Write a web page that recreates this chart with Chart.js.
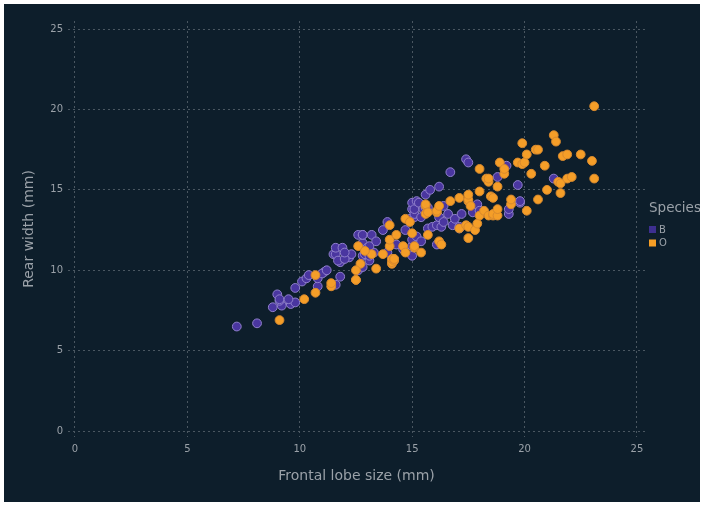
<!DOCTYPE html>
<html>
<head>
<meta charset="utf-8">
<script src="https://cdn.jsdelivr.net/npm/chart.js@4"></script>
<style>
  html, body { margin: 0; padding: 0; background: #ffffff; }
  #wrap { position: absolute; left: 4px; top: 4px; width: 696px; height: 498px; background: #0d1e2b; }
  canvas { display: block; }
</style>
</head>
<body>
<div id="wrap"><canvas id="c" width="696" height="498"></canvas></div>
<script>
// Crab morphology: frontal lobe size (FL) against rear width (RW), by species.
const speciesNames = ['B', 'O'];

// Species B (blue form) — FL values
const fl_B = [
  8.1, 8.8, 9.2, 9.6, 9.8, 10.8, 11.1, 11.6, 11.8, 11.8,
  12.2, 12.3, 12.6, 12.8, 12.8, 12.9, 13.1, 13.1, 13.3, 13.9,
  14.3, 14.6, 15.0, 15.0, 15.0, 15.2, 15.4, 15.7, 15.9, 16.1,
  16.1, 16.2, 16.3, 16.4, 16.6, 16.8, 16.9, 17.1, 17.1, 17.2,
  17.7, 17.9, 18.0, 18.8, 19.3, 19.3, 19.7, 19.8, 19.8, 21.3,
  7.2, 9.0, 9.1, 9.1, 9.5, 9.8, 10.1, 10.3, 10.4, 10.8,
  11.0, 11.2, 11.5, 11.6, 11.6, 11.7, 11.9, 12.0, 12.0, 12.6,
  12.8, 12.8, 12.8, 13.0, 13.1, 13.2, 13.4, 13.7, 13.9, 14.7,
  14.9, 15.0, 15.0, 15.1, 15.1, 15.1, 15.2, 15.3, 15.4, 15.5,
  15.6, 15.6, 15.7, 15.8, 16.2, 16.4, 16.7, 17.4, 17.5, 19.2
];
// Species B — RW values
const rw_B = [
  6.7, 7.7, 7.8, 7.9, 8.0, 9.0, 9.9, 9.1, 9.6, 10.5,
  10.8, 11.0, 10.0, 10.2, 10.9, 11.0, 10.6, 10.9, 11.1, 11.1,
  11.6, 11.3, 10.9, 11.5, 11.9, 12.1, 11.8, 12.6, 12.7, 11.6,
  12.8, 13.3, 12.7, 13.0, 13.5, 12.8, 13.2, 12.6, 12.7, 13.5,
  13.6, 14.1, 13.7, 15.8, 13.5, 13.8, 15.3, 14.2, 14.3, 15.7,
  6.5, 8.5, 8.1, 8.2, 8.2, 8.9, 9.3, 9.5, 9.7, 9.5,
  9.8, 10.0, 11.0, 11.0, 11.4, 10.6, 11.4, 10.7, 11.1, 12.2,
  11.7, 12.2, 12.2, 11.4, 11.5, 12.2, 11.8, 12.5, 13.0, 12.5,
  13.2, 13.8, 14.2, 13.3, 13.5, 13.8, 14.3, 14.2, 13.3, 13.8,
  13.9, 14.7, 13.9, 15.0, 15.2, 14.0, 16.1, 16.9, 16.7, 16.5
];

// Species O (orange form) — FL values
const fl_O = [
  9.1, 10.2, 10.7, 11.4, 12.5, 12.5, 12.7, 13.2, 13.4, 13.7,
  14.0, 14.1, 14.1, 14.1, 14.2, 14.2, 14.2, 14.6, 14.7, 15.1,
  15.1, 15.4, 15.7, 16.2, 16.3, 17.1, 17.4, 17.5, 17.5, 17.8,
  17.9, 18.0, 18.2, 18.4, 18.6, 18.6, 18.8, 18.8, 19.4, 19.4,
  20.1, 20.6, 21.0, 21.5, 21.6, 21.6, 21.9, 22.1, 23.0, 23.1,
  10.7, 11.4, 12.5, 12.6, 12.9, 14.0, 14.0, 14.3, 14.7, 14.9,
  15.0, 15.6, 15.6, 15.6, 15.7, 16.1, 16.1, 16.2, 16.7, 17.1,
  17.5, 17.5, 17.5, 17.6, 18.0, 18.0, 18.3, 18.4, 18.4, 18.5,
  18.6, 18.8, 18.9, 19.1, 19.1, 19.7, 19.9, 19.9, 20.0, 20.1,
  20.3, 20.5, 20.6, 20.9, 21.3, 21.4, 21.7, 21.9, 22.5, 23.1
];
// Species O — RW values
const rw_O = [
  6.9, 8.2, 8.6, 9.0, 9.4, 9.4, 10.4, 11.0, 10.1, 11.0,
  11.5, 10.4, 10.5, 10.7, 10.6, 10.7, 10.7, 11.5, 11.1, 11.4,
  11.5, 11.1, 12.2, 11.8, 11.6, 12.6, 12.8, 12.0, 12.7, 12.5,
  12.9, 13.4, 13.7, 13.4, 13.4, 13.5, 13.4, 13.8, 14.1, 14.4,
  13.7, 14.4, 15.0, 15.5, 15.4, 14.8, 15.7, 15.8, 16.8, 15.7,
  9.7, 9.2, 10.0, 11.5, 11.2, 11.9, 12.8, 12.2, 13.2, 13.0,
  12.3, 13.5, 14.0, 14.1, 13.6, 13.6, 13.7, 14.0, 14.3, 14.5,
  14.3, 14.4, 14.7, 14.0, 14.9, 16.3, 15.7, 15.5, 15.7, 14.6,
  14.5, 15.2, 16.7, 16.0, 16.3, 16.7, 16.6, 17.9, 16.7, 17.2,
  16.0, 17.5, 17.5, 16.5, 18.4, 18.0, 17.1, 17.2, 17.2, 20.2
];

const tickValues = [0, 5, 10, 15, 20, 25];

const colB = { fill: '#4a36a0', edge: '#9080cc', key: '#3d2f90' };
const colO = { fill: '#f59e28', edge: '#d98a2e', key: '#f59e26' };

const toPoints = (xs, ys) => xs.map((x, i) => ({ x: x, y: ys[i] }));

const textGrey = '#9aa1a8';
const gridGrey = '#4a5761';
const FONT = "'DejaVu Sans', sans-serif";

// Side legend: title plus one square key per species
const sideLegend = {
  id: 'sideLegend',
  afterDraw(chart) {
    const ctx = chart.ctx;
    ctx.save();
    ctx.fillStyle = textGrey;
    ctx.font = "13.5px " + FONT;
    ctx.textBaseline = 'middle';
    ctx.textAlign = 'left';
    ctx.fillText('Species', 645, 204);
    ctx.font = "10px " + FONT;
    chart.data.datasets.slice().reverse().forEach((ds, i) => {
      const y = 225.5 + i * 13.5;
      ctx.fillStyle = ds.keyColor;
      ctx.fillRect(645, y - 3.5, 7, 7);
      ctx.fillStyle = textGrey;
      ctx.fillText(ds.label, 655, y + 0.5);
    });
    ctx.restore();
  }
};

const gridOpts = {
  color: gridGrey,
  lineWidth: 1,
  drawTicks: false
};
// dotted grid lines (dash pattern lives under border in Chart.js v4)
const borderOpts = { display: false, dash: [2, 3] };

new Chart(document.getElementById('c'), {
  type: 'scatter',
  data: {
    datasets: [
      {
        label: speciesNames[1],
        data: toPoints(fl_O, rw_O),
        backgroundColor: colO.fill,
        borderColor: colO.edge,
        keyColor: colO.key,
        borderWidth: 1,
        pointRadius: 4.4,
        pointHoverRadius: 4.4
      },
      {
        label: speciesNames[0],
        data: toPoints(fl_B, rw_B),
        backgroundColor: colB.fill,
        borderColor: colB.edge,
        keyColor: colB.key,
        borderWidth: 1,
        pointRadius: 4.4,
        pointHoverRadius: 4.4
      }
    ]
  },
  options: {
    responsive: false,
    animation: false,
    layout: { padding: { left: 0, right: 55, top: 17, bottom: 0 } },
    plugins: {
      legend: { display: false },
      tooltip: { enabled: false }
    },
    scales: {
      x: {
        type: 'linear',
        min: -0.31,
        max: 25.36,
        afterBuildTicks(scale) { scale.ticks = tickValues.map(v => ({ value: v })); },
        afterFit(scale) { scale.height = 65; },
        border: borderOpts,
        grid: gridOpts,
        ticks: { color: textGrey, font: { family: FONT, size: 10 }, padding: 6 },
        title: {
          display: true,
          text: 'Frontal lobe size (mm)',
          color: textGrey,
          font: { family: FONT, size: 14 },
          padding: { top: 4, bottom: 17 }
        }
      },
      y: {
        type: 'linear',
        min: -0.37,
        max: 25.5,
        afterBuildTicks(scale) { scale.ticks = tickValues.map(v => ({ value: v })); },
        afterFit(scale) { scale.width = 64; },
        border: borderOpts,
        grid: gridOpts,
        ticks: { color: textGrey, font: { family: FONT, size: 10 }, padding: 5 },
        title: {
          display: true,
          text: 'Rear width (mm)',
          color: textGrey,
          font: { family: FONT, size: 14 },
          padding: { top: 17, bottom: 4 }
        }
      }
    }
  },
  plugins: [sideLegend]
});
</script>
</body>
</html>
